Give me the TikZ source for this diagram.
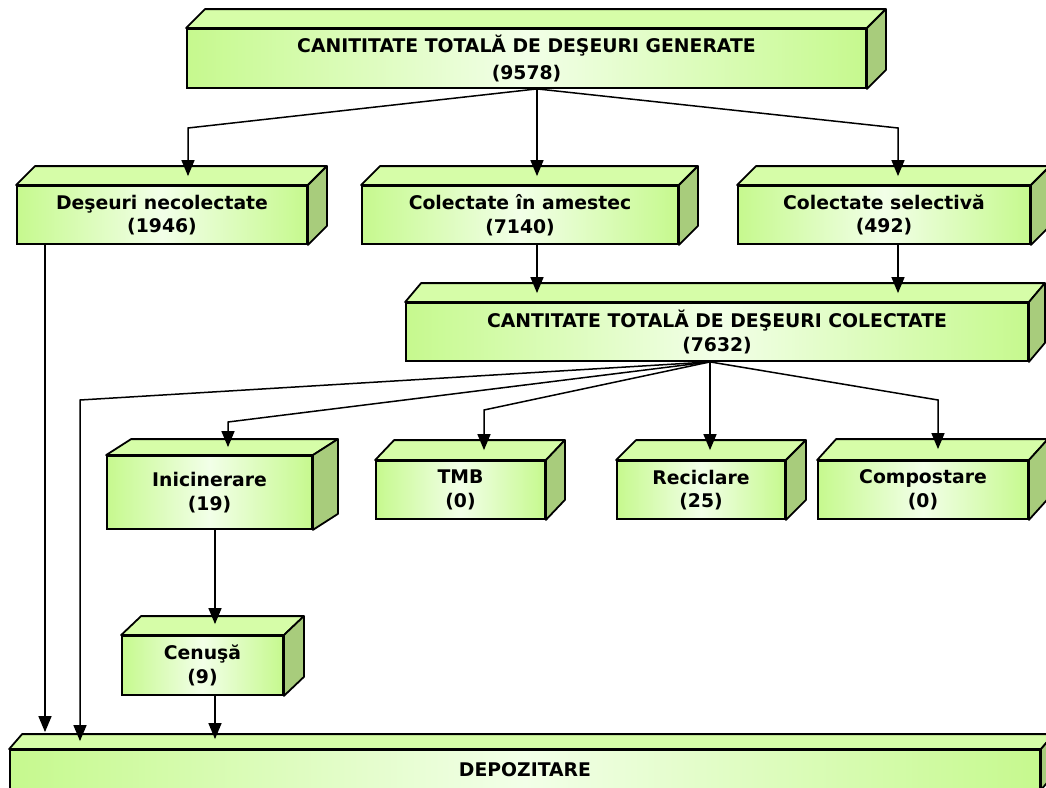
\documentclass[tikz,border=0pt]{standalone}
\usepackage{fontspec}
\setmainfont{DejaVu Sans}
\usetikzlibrary{arrows.meta,calc}
\definecolor{gedge}{HTML}{C6F98E}
\definecolor{gmid}{HTML}{F2FFE8}
\definecolor{gtop}{HTML}{D6FDA8}
\definecolor{gside}{HTML}{A8CC7C}
\tikzset{
 frontface/.style={draw=black, line width=1.8pt, left color=gedge, right color=gedge, middle color=gmid, inner sep=0pt, align=center, font=\fontsize{18.8}{23.5}\selectfont\bfseries},
 topface/.style={draw=black, line width=1.8pt, fill=gtop, line join=round},
 sideface/.style={draw=black, line width=1.8pt, fill=gside, line join=round},
 conn/.style={draw=black, line width=1.5pt, -{Triangle[width=13pt,length=16pt]}},
}
\newcommand\cubbox[8]{%
 \node[frontface, minimum width={#4-#2}, minimum height={#5-#3}] (#1) at ({(#2+#4)/2},{(#3+#5)/2}) {#8};
 \filldraw[topface] (#1.north west) -- ++(#6,-#7) -- ([shift={(#6,-#7)}]#1.north east) -- (#1.north east) -- cycle;
 \filldraw[sideface] (#1.north east) -- ++(#6,-#7) -- ([shift={(#6,-#7)}]#1.south east) -- (#1.south east) -- cycle;
}
\begin{document}
\begin{tikzpicture}[x=1pt,y=-1pt]
\useasboundingbox (0,0) rectangle (1046,787);
\clip (0,0) rectangle (1046,787);
\cubbox{top}{187}{29}{866}{88}{19}{19}{CANITITATE TOTALĂ DE DEŞEURI GENERATE\\[3pt](9578)}
\cubbox{nec}{17}{186}{307}{244}{19}{19}{Deşeuri necolectate\\(1946)}
\cubbox{ame}{362}{186}{678}{244}{19}{19}{Colectate în amestec\\(7140)}
\cubbox{sel}{738}{186}{1030}{244}{19}{19}{Colectate selectivă\\(492)}
\cubbox{col}{406}{303}{1028}{361}{16}{19}{CANTITATE TOTALĂ DE DEŞEURI COLECTATE\\(7632)}
\cubbox{inc}{107}{456}{312}{529}{25}{16}{Inicinerare\\(19)}
\cubbox{tmb}{376}{461}{545}{519}{19}{20}{TMB\\(0)}
\cubbox{rec}{617}{461}{785}{519}{20}{20}{Reciclare\\(25)}
\cubbox{com}{818}{461}{1028}{519}{19}{21}{Compostare\\(0)}
\cubbox{cen}{122}{636}{283}{695}{20}{19}{Cenuşă\\(9)}
\cubbox{dep}{10}{750}{1040}{789}{13}{15}{DEPOZITARE}
% connectors from the generated total
\draw[conn] (top.south -| 537,0) -- (188,128) -- ($(nec.north -| 188,0)+(0,-9)$);
\draw[conn] (top.south -| 537,0) -- ($(ame.north -| 537,0)+(0,-9)$);
\draw[conn] (top.south -| 537,0) -- (898,128) -- ($(sel.north -| 898,0)+(0,-9)$);
% to collected total
\draw[conn] (ame.south -| 537,0) -- ($(col.north -| 537,0)+(0,-9)$);
\draw[conn] (sel.south -| 898,0) -- ($(col.north -| 898,0)+(0,-9)$);
% from collected total
\draw[conn] (col.south -| 710,0) -- (80,400) -- ($(dep.north -| 80,0)+(0,-8)$);
\draw[conn] (col.south -| 710,0) -- (228,422) -- ($(inc.north -| 228,0)+(0,-8)$);
\draw[conn] (col.south -| 710,0) -- (484,410) -- ($(tmb.north -| 484,0)+(0,-10)$);
\draw[conn] (col.south -| 710,0) -- ($(rec.north -| 710,0)+(0,-10)$);
\draw[conn] (col.south -| 710,0) -- (938,400) -- ($(com.north -| 938,0)+(0,-11)$);
% others
\draw[conn] (nec.south -| 45,0) -- ($(dep.north -| 45,0)+(0,-17)$);
\draw[conn] (inc.south -| 215,0) -- ($(cen.north -| 215,0)+(0,-11)$);
\draw[conn] (cen.south -| 215,0) -- ($(dep.north -| 215,0)+(0,-10)$);
\end{tikzpicture}
\end{document}
